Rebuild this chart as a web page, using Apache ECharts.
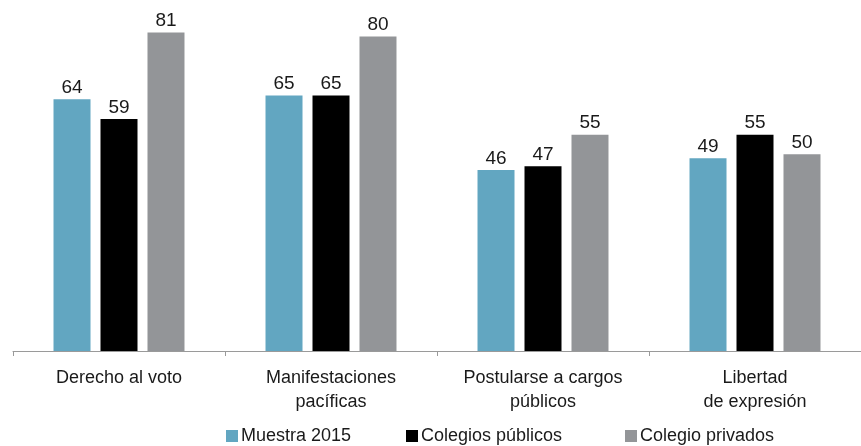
<!DOCTYPE html>
<html>
<head>
<meta charset="utf-8">
<script src="https://cdn.jsdelivr.net/npm/echarts@6/dist/echarts.min.js"></script>
<style>
  html, body { margin: 0; padding: 0; background: #fff; }
  #chart { width: 861px; height: 446px; }
</style>
</head>
<body>
<div id="chart"></div>
<script>
// Categories and series values
const categories = ['Derecho al voto', 'Manifestaciones\npacíficas', 'Postularse a cargos\npúblicos', 'Libertad\nde expresión'];
const muestra2015 = [64, 65, 46, 49];
const colegiosPublicos = [59, 65, 47, 55];
const colegioPrivados = [81, 80, 55, 50];
const seriesNames = ['Muestra 2015', 'Colegios públicos', 'Colegio privados'];

const FONT = '"Liberation Sans Narrow", "Liberation Sans", Arial, sans-serif';
const colors = ['#62A6C1', '#000000', '#939598'];
// left edge of each legend swatch
const legendLefts = [226, 406, 625];

const chart = echarts.init(document.getElementById('chart'));

function barSeries(name, data, color) {
  return {
    name: name,
    type: 'bar',
    data: data,
    barWidth: 37,
    barGap: '27%',
    itemStyle: { color: color },
    label: {
      show: true,
      position: 'top',
      distance: 2,
      color: '#1a1a1a',
      fontFamily: FONT,
      fontSize: 19
    }
  };
}

chart.setOption({
  animation: false,
  color: colors,
  grid: { left: 13, right: 0, top: 1, bottom: 95, containLabel: false },
  xAxis: {
    type: 'category',
    data: categories,
    axisLine: { lineStyle: { color: '#9a9a9a', width: 1 } },
    axisTick: { show: true, length: 5, lineStyle: { color: '#9a9a9a' } },
    axisLabel: {
      color: '#1a1a1a',
      fontFamily: FONT,
      fontSize: 18,
      lineHeight: 24,
      margin: 15
    }
  },
  yAxis: {
    type: 'value',
    min: 0,
    max: 89,
    show: false,
    splitLine: { show: false }
  },
  legend: seriesNames.map((name, i) => ({
    left: legendLefts[i],
    top: 427,
    padding: 0,
    itemWidth: 12,
    itemHeight: 12,
    itemGap: 0,
    icon: 'rect',
    textStyle: { color: '#1a1a1a', fontFamily: FONT, fontSize: 18, padding: [0, 0, 0, -2] },
    data: [name]
  })),
  series: [
    barSeries(seriesNames[0], muestra2015, colors[0]),
    barSeries(seriesNames[1], colegiosPublicos, colors[1]),
    barSeries(seriesNames[2], colegioPrivados, colors[2])
  ]
});
</script>
</body>
</html>
